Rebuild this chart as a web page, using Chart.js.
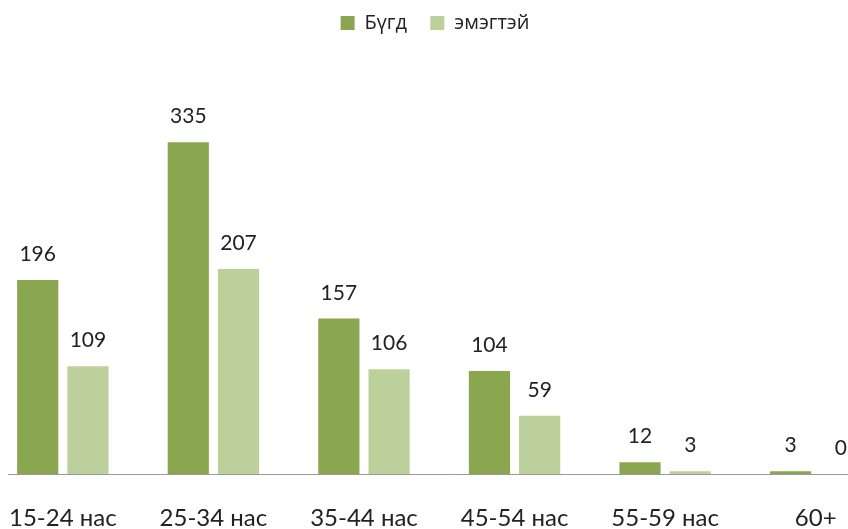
<!DOCTYPE html>
<html>
<head>
<meta charset="utf-8">
<script src="https://cdn.jsdelivr.net/npm/chart.js@4/dist/chart.umd.min.js"></script>
<style>
  html, body { margin: 0; padding: 0; background: #fff; overflow: hidden; width: 848px; height: 529px; }
  #wrap { position: absolute; left: -21px; top: 0; width: 912px; height: 563px; }
</style>
</head>
<body>
<div id="wrap"><canvas id="chart"></canvas></div>
<script>
const categories = ['15-24 нас', '25-34 нас', '35-44 нас', '45-54 нас', '55-59 нас', '60+'];
const totalValues = [196, 335, 157, 104, 12, 3];
const femaleValues = [109, 207, 106, 59, 3, 0];
const seriesNames = ['Бүгд', 'эмэгтэй'];

const FONT = "Lato, 'Open Sans', sans-serif";

// value labels above each bar
const valueLabels = {
    id: 'valueLabels',
    afterDatasetsDraw(chart) {
        const ctx = chart.ctx;
        ctx.save();
        ctx.font = '21px ' + FONT;
        ctx.fillStyle = '#222';
        ctx.textAlign = 'center';
        ctx.textBaseline = 'alphabetic';
        chart.data.datasets.forEach((ds, i) => {
            chart.getDatasetMeta(i).data.forEach((bar, j) => {
                ctx.fillText(String(ds.data[j]), bar.x, bar.y - 19);
            });
        });
        ctx.restore();
    }
};

// baseline line, starts a bit right of the page edge
const baseLine = {
    id: 'baseLine',
    beforeDatasetsDraw(chart) {
        const ctx = chart.ctx;
        const y = Math.round(chart.scales.y.getPixelForValue(0)) + 0.5;
        ctx.save();
        ctx.strokeStyle = '#999';
        ctx.lineWidth = 1;
        ctx.beginPath();
        ctx.moveTo(29, y);
        ctx.lineTo(chart.width, y);
        ctx.stroke();
        ctx.restore();
    }
};

new Chart(document.getElementById('chart'), {
    type: 'bar',
    data: {
        labels: categories,
        datasets: [
            { label: seriesNames[0], data: totalValues, backgroundColor: '#8aa64e' },
            { label: seriesNames[1], data: femaleValues, backgroundColor: '#bbd09a' }
        ]
    },
    options: {
        responsive: true,
        maintainAspectRatio: false,
        animation: false,
        categoryPercentage: 0.667,
        barPercentage: 0.82,
        layout: { padding: { left: 0, right: 0, top: 0, bottom: 0 } },
        scales: {
            x: {
                grid: { display: false, drawTicks: false },
                border: { display: false },
                ticks: { color: '#222', font: { family: FONT, size: 24 }, padding: 30 }
            },
            y: {
                display: false,
                min: 0,
                max: 435
            }
        },
        plugins: {
            legend: {
                position: 'top',
                labels: {
                    boxWidth: 14,
                    boxHeight: 14,
                    padding: 13,
                    color: '#222',
                    font: { family: "'Open Sans', sans-serif", size: 20 },
                    generateLabels(chart) {
                        const items = Chart.defaults.plugins.legend.labels.generateLabels(chart);
                        items[0].text += '  ';
                        return items;
                    }
                }
            },
            tooltip: { enabled: false }
        }
    },
    plugins: [valueLabels, baseLine]
});
</script>
</body>
</html>
